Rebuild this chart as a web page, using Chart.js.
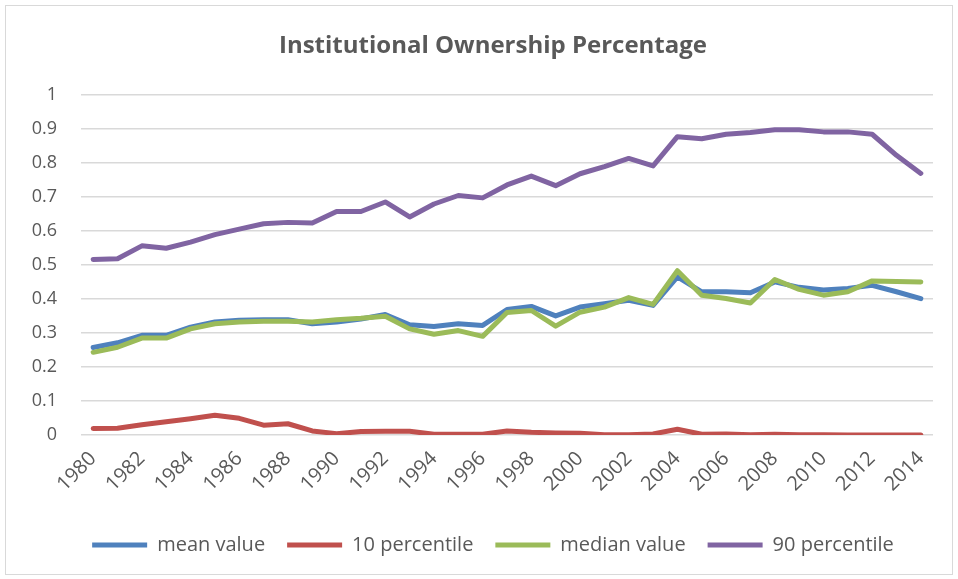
<!DOCTYPE html>
<html>
<head>
<meta charset="utf-8">
<script src="https://cdn.jsdelivr.net/npm/chart.js@4"></script>
<style>
  body { margin: 0; background: #fff; }
  #wrap { position: relative; width: 958px; height: 579px; }
  #marco { position: absolute; left: 5px; top: 5px; width: 946px; height: 568px; border: 1px solid #d9d9d9; pointer-events: none; }
</style>
</head>
<body>
<div id="wrap">
  <canvas id="myChart" width="958" height="579"></canvas>
  <div id="marco"></div>
</div>
<script>
let years = [];
for (let y = 1980; y <= 2014; y++) years.push(String(y));

let meanValue = [0.257, 0.271, 0.293, 0.293, 0.317, 0.332, 0.337, 0.339, 0.339, 0.327, 0.332, 0.341, 0.354, 0.324, 0.319, 0.327, 0.322, 0.369, 0.378, 0.350, 0.376, 0.386, 0.396, 0.381, 0.465, 0.421, 0.421, 0.418, 0.450, 0.434, 0.426, 0.431, 0.440, 0.421, 0.401];
let p10 = [0.019, 0.020, 0.030, 0.039, 0.048, 0.058, 0.049, 0.029, 0.033, 0.012, 0.004, 0.010, 0.011, 0.011, 0.002, 0.002, 0.002, 0.012, 0.008, 0.006, 0.005, 0.001, 0.001, 0.003, 0.017, 0.002, 0.003, 0.001, 0.002, 0.001, 0.001, 0, 0, 0, 0];
let medianValue = [0.243, 0.258, 0.285, 0.285, 0.312, 0.327, 0.332, 0.334, 0.334, 0.332, 0.339, 0.343, 0.349, 0.312, 0.296, 0.307, 0.290, 0.360, 0.366, 0.320, 0.361, 0.376, 0.404, 0.384, 0.483, 0.411, 0.401, 0.388, 0.457, 0.428, 0.411, 0.421, 0.453, 0.451, 0.450];
let p90 = [0.516, 0.518, 0.556, 0.549, 0.567, 0.589, 0.605, 0.621, 0.625, 0.623, 0.657, 0.657, 0.685, 0.641, 0.679, 0.704, 0.697, 0.735, 0.761, 0.733, 0.768, 0.789, 0.813, 0.791, 0.877, 0.871, 0.884, 0.889, 0.897, 0.897, 0.891, 0.891, 0.884, 0.822, 0.769];

let gris = "#595959";
let fuente = "'Open Sans', sans-serif";

function serie(label, data, color, order) {
  return {
    label: label,
    data: data,
    borderColor: color,
    backgroundColor: color,
    borderWidth: 5,
    borderCapStyle: "round",
    borderJoinStyle: "round",
    pointRadius: 0,
    pointHoverRadius: 0,
    tension: 0,
    fill: false,
    order: order,
  };
}

const config = {
  type: "line",
  data: {
    labels: years,
    datasets: [
      serie("mean value", meanValue, "#4F81BD", 4),
      serie("10 percentile", p10, "#C0504D", 3),
      serie("median value", medianValue, "#9BBB59", 2),
      serie("90 percentile", p90, "#8064A2", 1),
    ],
  },
  options: {
    responsive: false,
    animation: false,
    layout: { padding: { top: 12, right: 0, bottom: 14, left: 28 } },
    plugins: {
      title: {
        display: true,
        text: "Institutional Ownership Percentage",
        color: gris,
        font: { family: fuente, size: 24, weight: "bold" },
        padding: { top: 20, bottom: 34 },
      },
      legend: {
        position: "bottom",
        labels: {
          color: gris,
          font: { family: fuente, size: 20 },
          usePointStyle: true,
          pointStyle: "line",
          pointStyleWidth: 55,
          boxHeight: 20,
          padding: 22,
          sort: (a, b) => a.datasetIndex - b.datasetIndex,
        },
      },
      tooltip: { enabled: false },
    },
    scales: {
      x: {
        offset: true,
        grid: { display: false },
        border: { display: false },
        ticks: {
          color: gris,
          font: { family: fuente, size: 20 },
          autoSkip: false,
          maxRotation: 45,
          minRotation: 45,
          padding: 4,
          callback: function (val, i) {
            return i % 2 == 0 ? years[i] : "";
          },
        },
        afterFit: function (scale) {
          scale.height = 78;
        },
      },
      y: {
        min: 0,
        max: 1,
        grid: { color: "#d9d9d9", lineWidth: 1.5, drawTicks: false },
        border: { display: false },
        ticks: {
          stepSize: 0.1,
          color: gris,
          font: { family: fuente, size: 18 },
          padding: 24,
          callback: function (v) {
            return Math.round(v * 10) / 10;
          },
        },
        afterFit: function (scale) {
          scale.width = 53;
        },
      },
      // margen derecho vacio
      margen: {
        type: "linear",
        position: "right",
        grid: { display: false },
        border: { display: false },
        ticks: { display: false },
        afterFit: function (scale) {
          scale.width = 25;
        },
      },
    },
  },
};

const ctx = document.getElementById("myChart");
let myChart = new Chart(ctx, config);
</script>
</body>
</html>
